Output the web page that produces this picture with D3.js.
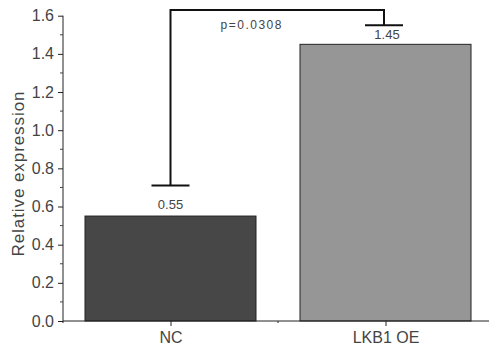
<!DOCTYPE html>
<html>
<head>
<meta charset="utf-8">
<script src="https://cdn.jsdelivr.net/npm/d3@7"></script>
<style>
  html, body { margin: 0; padding: 0; background: #fff; }
  svg { display: block; font-family: "Liberation Sans", Arial, sans-serif; }
</style>
</head>
<body>
<div id="chart"></div>
<script>
// chart data
const categories = ['NC', 'LKB1 OE'];
const values = [0.55, 1.45];
const valueLabels = ['0.55', '1.45'];
const barColors = ['#474747', '#969696'];
const yTicks = [0.0, 0.2, 0.4, 0.6, 0.8, 1.0, 1.2, 1.4, 1.6];
// significance bracket: left foot, right foot, top (in data units)
const bracketLevels = [0.71, 1.55, 1.63];
const pLabel = 'p=0.0308';

const width = 489, height = 348;
const axisX = 63, axisY = 321;

const svg = d3.select('#chart')
  .append('svg')
  .attr('width', width)
  .attr('height', height);

const y = d3.scaleLinear()
  .domain([0, 1.6])
  .range([axisY, 15.7]);

const x = d3.scalePoint()
  .domain(categories)
  .range([170.5, 385.5]);

const barWidth = 171;

// bars
svg.selectAll('.bar')
  .data(categories)
  .enter().append('rect')
  .attr('class', 'bar')
  .attr('x', d => x(d) - barWidth / 2)
  .attr('y', (d, i) => y(values[i]))
  .attr('width', barWidth)
  .attr('height', (d, i) => y(0) - y(values[i]))
  .attr('fill', (d, i) => barColors[i])
  .attr('stroke', '#222')
  .attr('stroke-width', 1);

// y axis with minor ticks
const yAxis = svg.append('g')
  .attr('transform', `translate(${axisX},0)`)
  .call(d3.axisLeft(y).tickValues(yTicks).tickFormat(d3.format('.1f')).tickSize(5).tickPadding(4))
  .call(g => g.select('.domain').attr('d', `M0,${y(1.6)}V${axisY + 2}`).attr('stroke', '#222'))
  .call(g => g.selectAll('.tick line').attr('stroke', '#222'))
  .call(g => g.selectAll('.tick text')
    .attr('font-size', 16)
    .attr('fill', '#444'));

yAxis.selectAll('.minor')
  .data(d3.range(0.1, 1.6, 0.2))
  .enter().append('line')
  .attr('class', 'minor')
  .attr('x1', -3).attr('x2', 0)
  .attr('y1', d => y(d)).attr('y2', d => y(d))
  .attr('stroke', '#444');

// x axis
const xAxis = svg.append('g')
  .attr('transform', `translate(0,${axisY})`)
  .call(d3.axisBottom(x).tickSize(5).tickPadding(6))
  .call(g => g.select('.domain').attr('d', `M${axisX},0H${width}`).attr('stroke', '#222'))
  .call(g => g.selectAll('.tick line').attr('stroke', '#222'))
  .call(g => g.selectAll('.tick text')
    .attr('font-size', 16)
    .attr('fill', '#444'));

xAxis.append('line')
  .attr('x1', (x(categories[0]) + x(categories[1])) / 2)
  .attr('x2', (x(categories[0]) + x(categories[1])) / 2)
  .attr('y1', 0).attr('y2', 2)
  .attr('stroke', '#222');

// y axis title
svg.append('text')
  .attr('transform', `translate(24,${174}) rotate(-90)`)
  .attr('text-anchor', 'middle')
  .attr('font-size', 17)
  .attr('fill', '#444')
  .attr('textLength', 165)
  .attr('lengthAdjust', 'spacing')
  .text('Relative expression');

// value labels
svg.selectAll('.value')
  .data(categories)
  .enter().append('text')
  .attr('class', 'value')
  .attr('x', (d, i) => x(d) + (i ? 1.5 : 0))
  .attr('y', (d, i) => y(values[i]) - (i ? 5 : 7))
  .attr('text-anchor', 'middle')
  .attr('font-size', 13)
  .attr('fill', '#444')
  .text((d, i) => valueLabels[i]);

// significance bracket
const xl = x(categories[0]), xr = x(categories[1]) - 1.5;
const capHalf = 19;
svg.append('path')
  .attr('d', `M${xl},${y(bracketLevels[0])}V${y(bracketLevels[2])}H${xr}V${y(bracketLevels[1])}`)
  .attr('fill', 'none')
  .attr('stroke', '#111')
  .attr('stroke-width', 2);

svg.selectAll('.cap')
  .data([[xl, bracketLevels[0]], [xr, bracketLevels[1]]])
  .enter().append('line')
  .attr('class', 'cap')
  .attr('x1', d => d[0] - capHalf)
  .attr('x2', d => d[0] + capHalf)
  .attr('y1', d => y(d[1]))
  .attr('y2', d => y(d[1]))
  .attr('stroke', '#111')
  .attr('stroke-width', 2);

svg.append('text')
  .attr('x', 251)
  .attr('y', 28.5)
  .attr('text-anchor', 'middle')
  .attr('font-size', 12)
  .attr('fill', '#444')
  .attr('textLength', 61)
  .attr('lengthAdjust', 'spacing')
  .text(pLabel);
</script>
</body>
</html>
